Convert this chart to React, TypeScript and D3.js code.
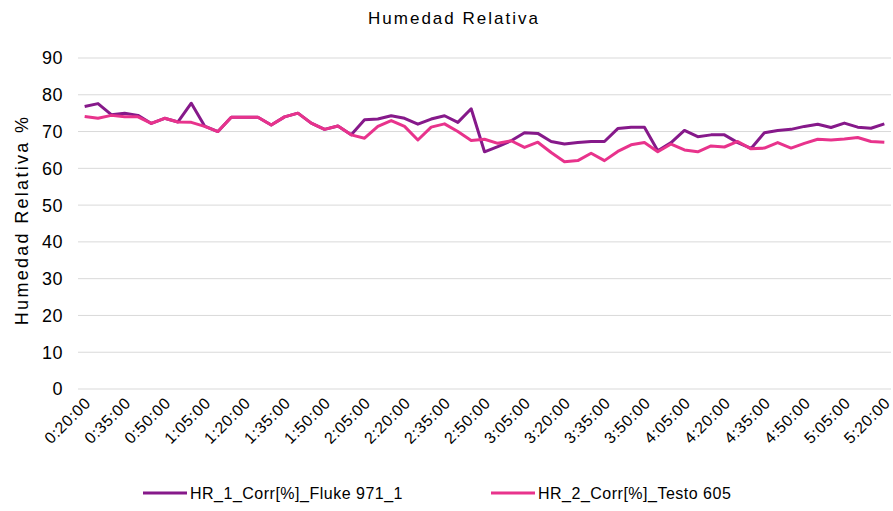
import React from 'react'
import * as d3 from 'd3'

const width = 893
const height = 511

const timeLabels = [
  '0:20:00', '0:25:00', '0:30:00', '0:35:00', '0:40:00', '0:45:00', '0:50:00', '0:55:00',
  '1:00:00', '1:05:00', '1:10:00', '1:15:00', '1:20:00', '1:25:00', '1:30:00', '1:35:00',
  '1:40:00', '1:45:00', '1:50:00', '1:55:00', '2:00:00', '2:05:00', '2:10:00', '2:15:00',
  '2:20:00', '2:25:00', '2:30:00', '2:35:00', '2:40:00', '2:45:00', '2:50:00', '2:55:00',
  '3:00:00', '3:05:00', '3:10:00', '3:15:00', '3:20:00', '3:25:00', '3:30:00', '3:35:00',
  '3:40:00', '3:45:00', '3:50:00', '3:55:00', '4:00:00', '4:05:00', '4:10:00', '4:15:00',
  '4:20:00', '4:25:00', '4:30:00', '4:35:00', '4:40:00', '4:45:00', '4:50:00', '4:55:00',
  '5:00:00', '5:05:00', '5:10:00', '5:15:00', '5:20:00'
]

// HR_1_Corr[%]_Fluke 971_1
const fluke = [
  76.8, 77.6, 74.6, 75.0, 74.4, 72.2, 73.6, 72.6, 77.7, 71.5, 70.0,
  73.9, 73.9, 73.9, 71.8, 74.0, 75.0, 72.3, 70.6, 71.5, 69.1,
  73.2, 73.4, 74.3, 73.6, 72.0, 73.4, 74.3, 72.5, 76.2, 64.5,
  65.9, 67.5, 69.7, 69.5, 67.3, 66.6, 67.0, 67.3, 67.3, 70.8,
  71.2, 71.2, 64.8, 67.0, 70.3, 68.6, 69.1, 69.1, 67.0, 65.4,
  69.7, 70.3, 70.6, 71.4, 72.0, 71.1, 72.3, 71.2, 70.9, 72.1
]

// HR_2_Corr[%]_Testo 605
const testo = [
  74.1, 73.6, 74.4, 74.0, 74.0, 72.2, 73.6, 72.6, 72.5, 71.4, 70.0,
  73.9, 73.9, 73.9, 71.8, 74.0, 75.0, 72.3, 70.6, 71.5, 69.1,
  68.2, 71.4, 73.0, 71.4, 67.7, 71.2, 72.1, 70.0, 67.6, 67.9,
  66.8, 67.5, 65.7, 67.1, 64.3, 61.8, 62.1, 64.1, 62.1, 64.6,
  66.4, 67.0, 64.5, 66.6, 65.0, 64.5, 66.1, 65.8, 67.3, 65.3,
  65.5, 67.0, 65.5, 66.8, 67.9, 67.7, 68.0, 68.4, 67.3, 67.1
]

const yTicks = [0, 10, 20, 30, 40, 50, 60, 70, 80, 90]

const seriesNames = ['HR_1_Corr[%]_Fluke 971_1', 'HR_2_Corr[%]_Testo 605']
const seriesColors = ['#86198A', '#E8338C']

const font = 'Arial, "Liberation Sans", sans-serif'

const App: React.FC = () => {
  const left = 78
  const right = 891
  const top = 58
  const bottom = 389

  const x = d3.scalePoint<string>().domain(timeLabels).range([left, right]).padding(0.5)
  const y = d3.scaleLinear().domain([0, 90]).range([bottom, top])

  const line = d3.line<number>()
    .x((_, i) => x(timeLabels[i]) as number)
    .y(d => y(d))

  const shownLabels = timeLabels.filter((_, i) => i % 3 === 0)

  return (
    <svg width={width} height={height} style={{ position: 'absolute', left: 0, top: 0, background: '#fff' }} fontFamily={font}>
      <text x={454} y={24} textAnchor="middle" fontSize={17} letterSpacing={2} fill="#000">Humedad  Relativa</text>

      {yTicks.map(t => (
        <g key={t}>
          <line x1={left} x2={right} y1={y(t)} y2={y(t)} stroke="#D9D9D9" strokeWidth={1} />
          <text x={63} y={y(t)} dy="0.36em" textAnchor="end" fontSize={18} letterSpacing={0.5} fill="#000">{t}</text>
        </g>
      ))}

      <text transform={`translate(28, 220) rotate(-90)`} textAnchor="middle" fontSize={18} letterSpacing={2.3} fill="#000">
        Humedad Relativa %
      </text>

      {shownLabels.map(l => (
        <text
          key={l}
          transform={`translate(${(x(l) as number) + 7}, 404) rotate(-45)`}
          textAnchor="end"
          fontSize={16}
          letterSpacing={0.6}
          fill="#000"
        >{l}</text>
      ))}

      {[fluke, testo].map((s, k) => (
        <path key={k} d={line(s) || ''} fill="none" stroke={seriesColors[k]} strokeWidth={3} strokeLinejoin="round" />
      ))}

      {seriesNames.map((n, k) => {
        const lx = k === 0 ? 143 : 491
        return (
          <g key={n}>
            <line x1={lx} x2={lx + 44} y1={493} y2={493} stroke={seriesColors[k]} strokeWidth={3} />
            <text x={lx + 47} y={493} dy="0.35em" fontSize={16} letterSpacing={0.5} fill="#000">{n}</text>
          </g>
        )
      })}
    </svg>
  )
}

export default App
